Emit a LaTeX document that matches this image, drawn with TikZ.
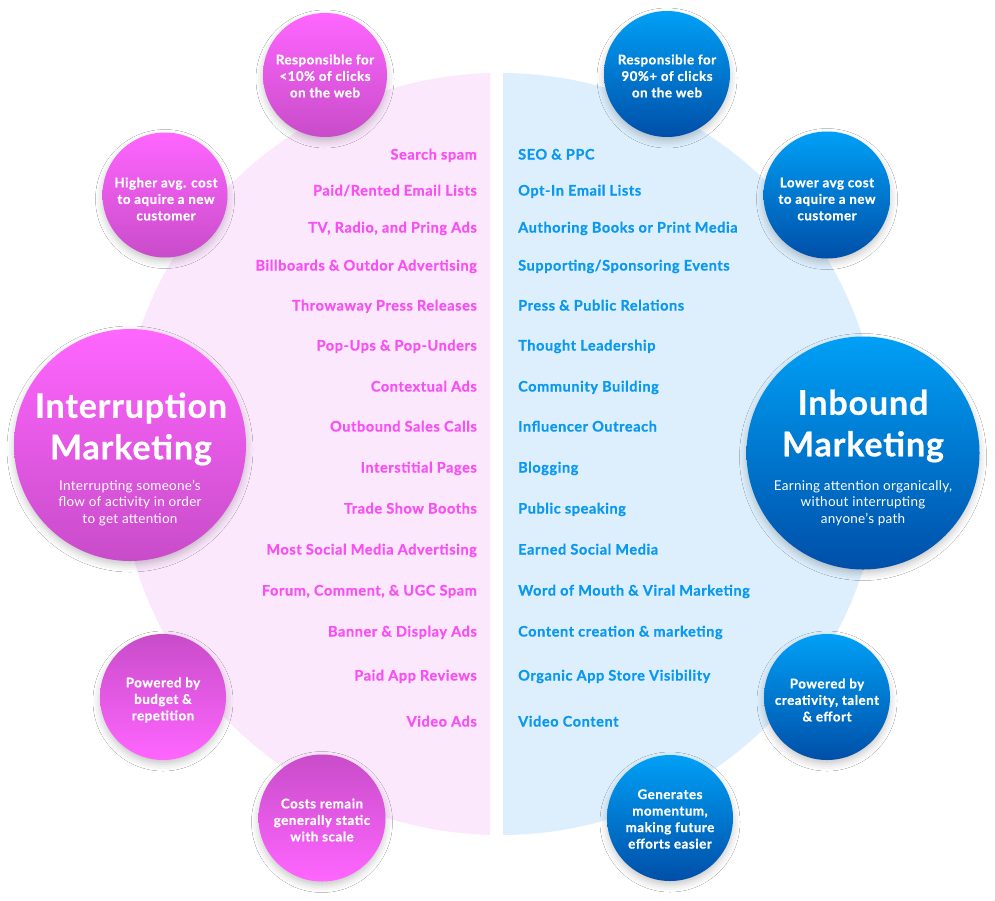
\documentclass[tikz,border=0pt]{standalone}
\usepackage{fontspec}
\setmainfont{Lato}
\newfontfamily\hvA{Lato}[LetterSpace=4, BoldFeatures={FakeBold=0.8}]
\newfontfamily\hvT{Lato}[LetterSpace=2.5, BoldFeatures={FakeBold=0.6}]
\newfontfamily\hvS{Lato}[LetterSpace=2]
\usetikzlibrary{shadows.blur}
\definecolor{pinkbg}{HTML}{FCE8FC}
\definecolor{bluebg}{HTML}{DDEFFD}
\definecolor{pinktxt}{HTML}{F850F4}
\definecolor{bluetxt}{HTML}{0A98F0}
\definecolor{pinktop}{HTML}{FF66FF}
\definecolor{pinkbot}{HTML}{C84CC9}
\definecolor{bluetop}{HTML}{00A0F6}
\definecolor{bluebot}{HTML}{004FA8}
\tikzset{
  disc/.style={circle, inner sep=0pt, draw=none,
    blur shadow={shadow xshift=0pt, shadow yshift=-4pt, shadow blur radius=7pt, shadow opacity=22}},
  pdisc/.style={disc, top color=pinktop, bottom color=pinkbot},
  pdiscr/.style={disc, top color=pinkbot, bottom color=pinktop},
  bdisc/.style={disc, top color=bluetop, bottom color=bluebot},
  ctext/.style={text=white, align=center, font=\hvA\fontsize{13.3}{16.5}\selectfont\bfseries, inner sep=0pt},
  title/.style={text=white, align=center, font=\hvT\fontsize{34}{41.5}\selectfont\bfseries, inner sep=0pt},
  sub/.style={text=white, align=center, font=\hvS\fontsize{13.5}{16.5}\selectfont, inner sep=0pt},
  litem/.style={text=pinktxt, anchor=mid east, inner sep=0pt, font=\hvA\fontsize{14.5}{16}\selectfont\bfseries},
  ritem/.style={text=bluetxt, anchor=mid west, inner sep=0pt, font=\hvA\fontsize{14.5}{16}\selectfont\bfseries},
}
\begin{document}
\begin{tikzpicture}[x=1pt,y=-1pt]
\useasboundingbox[fill=white] (0,0) rectangle (995,900);
% background halves
\begin{scope}
  \clip (0,0) rectangle (490,900);
  \fill[pinkbg] (500,454) circle (381pt);
\end{scope}
\begin{scope}
  \clip (503,0) rectangle (995,900);
  \fill[bluebg] (500,454) circle (381pt);
\end{scope}

% pink circles
\node[pdisc, minimum size=124pt] (ptop) at (325,75) {};
\node[ctext] (ptopt) at (325,76) {Responsible for\\<10\% of clicks\\on the web};
\node[pdisc, minimum size=125pt] (pup) at (165,195) {};
\node[ctext] (pupt) at (166,199) {Higher avg. cost\\to aquire a new\\customer};
\node[pdisc, minimum size=232pt] (pbig) at (130,445) {};
\node[title] (pbigt) at (131,429) {Interruption\\Marketing};
\node[sub] (pbigs) at (130,503) {Interrupting someone’s\\flow of activity in order\\to get attention};
\node[pdiscr, minimum size=126pt] (plow) at (163,697) {};
\node[ctext] (plowt) at (163,700) {Powered by\\budget \&\\repetition};
\node[pdiscr, minimum size=127pt] (pbot) at (322,818) {};
\node[ctext] (pbott) at (322,820) {Costs remain\\generally static\\with scale};

% blue circles
\node[bdisc, minimum size=126pt] (btop) at (667,74) {};
\node[ctext] (btopt) at (667,76) {Responsible for\\90\%+ of clicks\\on the web};
\node[bdisc, minimum size=127pt] (bup) at (827,195) {};
\node[ctext] (bupt) at (827,199) {Lower avg cost\\to aquire a new\\customer};
\node[bdisc, minimum size=233pt] (bbig) at (863,453) {};
\node[title] (bbigt) at (863,426) {Inbound\\Marketing};
\node[sub] (bbigs) at (863,503) {Earning attention organically,\\without interrupting\\anyone’s path};
\node[bdisc, minimum size=126pt] (blow) at (827,697) {};
\node[ctext] (blowt) at (827,700) {Powered by\\creativity, talent\\\& effort};
\node[bdisc, minimum size=126pt] (bbot) at (670,818) {};
\node[ctext] (bbott) at (670,819) {Generates\\momentum,\\making future\\efforts easier};

% pink list
\node[litem] (l1) at (477,157) {Search spam};
\node[litem] (l2) at (477,193) {Paid/Rented Email Lists};
\node[litem] (l3) at (477,230) {TV, Radio, and Pring Ads};
\node[litem] (l4) at (477,268) {Billboards \& Outdor Advertising};
\node[litem] (l5) at (477,308) {Throwaway Press Releases};
\node[litem] (l6) at (477,348) {Pop-Ups \& Pop-Unders};
\node[litem] (l7) at (477,389) {Contextual Ads};
\node[litem] (l8) at (477,429) {Outbound Sales Calls};
\node[litem] (l9) at (477,470) {Interstitial Pages};
\node[litem] (l10) at (477,511) {Trade Show Booths};
\node[litem] (l11) at (477,552) {Most Social Media Advertising};
\node[litem] (l12) at (477,593) {Forum, Comment, \& UGC Spam};
\node[litem] (l13) at (477,634) {Banner \& Display Ads};
\node[litem] (l14) at (477,678) {Paid App Reviews};
\node[litem] (l15) at (477,724) {Video Ads};

% blue list
\node[ritem] (r1) at (518,157) {SEO \& PPC};
\node[ritem] (r2) at (518,193) {Opt-In Email Lists};
\node[ritem] (r3) at (518,230) {Authoring Books or Print Media};
\node[ritem] (r4) at (518,268) {Supporting/Sponsoring Events};
\node[ritem] (r5) at (518,308) {Press \& Public Relations};
\node[ritem] (r6) at (518,348) {Thought Leadership};
\node[ritem] (r7) at (518,389) {Community Building};
\node[ritem] (r8) at (518,429) {Influencer Outreach};
\node[ritem] (r9) at (518,470) {Blogging};
\node[ritem] (r10) at (518,511) {Public speaking};
\node[ritem] (r11) at (518,552) {Earned Social Media};
\node[ritem] (r12) at (518,593) {Word of Mouth \& Viral Marketing};
\node[ritem] (r13) at (518,634) {Content creation \& marketing};
\node[ritem] (r14) at (518,678) {Organic App Store Visibility};
\node[ritem] (r15) at (518,724) {Video Content};
\end{tikzpicture}
\end{document}
